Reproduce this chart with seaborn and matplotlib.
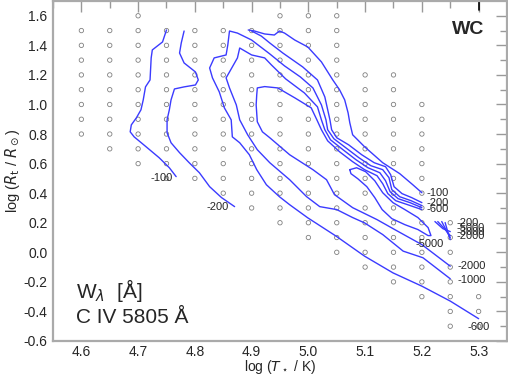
import numpy as np
import pandas as pd
import seaborn as sns
import matplotlib.pyplot as plt

# model grid: columns in log T*, each with its top / bottom log Rt
grid_logT = [4.60, 4.65, 4.70, 4.75, 4.80, 4.85, 4.90, 4.95, 5.00, 5.05, 5.10, 5.15, 5.20, 5.25, 5.30]
grid_top = [1.5, 1.5, 1.6, 1.5, 1.5, 1.5, 1.5, 1.6, 1.6, 1.6, 1.2, 1.2, 1.0, 0.2, -0.3]
grid_bottom = [0.8, 0.7, 0.6, 0.5, 0.5, 0.4, 0.3, 0.2, 0.1, 0.0, -0.1, -0.2, -0.3, -0.5, -0.5]

# contour lines of W_lambda (traced by hand), (log T*, log Rt)
c100_left = [(4.750, 1.504), (4.743, 1.423), (4.725, 1.369), (4.723, 1.315), (4.721, 1.166),
             (4.713, 1.119), (4.709, 1.031), (4.705, 0.964), (4.697, 0.910), (4.688, 0.862),
             (4.686, 0.815), (4.693, 0.781), (4.714, 0.714), (4.737, 0.640), (4.755, 0.572),
             (4.767, 0.512)]
c200_left = [(4.781, 1.497), (4.776, 1.416), (4.773, 1.348), (4.781, 1.281), (4.801, 1.220),
             (4.806, 1.166), (4.801, 1.132), (4.781, 1.119), (4.764, 1.105), (4.758, 1.031),
             (4.755, 0.964), (4.751, 0.896), (4.751, 0.809), (4.758, 0.741), (4.773, 0.674),
             (4.790, 0.606), (4.808, 0.538), (4.826, 0.444), (4.847, 0.370), (4.870, 0.309)]
c100_right = [(4.894, 1.504), (4.905, 1.497), (4.923, 1.477), (4.940, 1.470), (4.949, 1.497),
              (4.958, 1.483), (4.976, 1.436), (4.999, 1.389), (5.023, 1.288), (5.043, 1.166),
              (5.055, 1.099), (5.064, 1.031), (5.070, 0.943), (5.073, 0.876), (5.078, 0.795),
              (5.099, 0.714), (5.131, 0.606), (5.161, 0.532), (5.184, 0.457), (5.200, 0.403)]
c200_right = [(4.900, 1.497), (4.917, 1.463), (4.932, 1.416), (4.955, 1.348), (4.990, 1.254),
              (5.016, 1.166), (5.029, 1.051), (5.038, 0.896), (5.041, 0.829), (5.050, 0.775),
              (5.071, 0.727), (5.094, 0.660), (5.116, 0.606), (5.136, 0.579), (5.145, 0.525),
              (5.151, 0.444), (5.165, 0.397), (5.182, 0.370), (5.200, 0.336)]
c600 = [(5.300, -0.449), (5.250, -0.330), (5.200, -0.229), (5.149, -0.139), (5.099, -0.026),
        (5.049, 0.109), (4.999, 0.233), (4.967, 0.322), (4.949, 0.376), (4.926, 0.457),
        (4.909, 0.559), (4.896, 0.660), (4.879, 0.741), (4.866, 0.781), (4.864, 0.896),
        (4.852, 0.977), (4.843, 1.085), (4.831, 1.180), (4.826, 1.247), (4.834, 1.315),
        (4.855, 1.335), (4.858, 1.402), (4.861, 1.497), (4.875, 1.483), (4.900, 1.436),
        (4.932, 1.342), (4.958, 1.261), (4.986, 1.186), (5.008, 1.112), (5.023, 0.997),
        (5.031, 0.896), (5.034, 0.829), (5.045, 0.768), (5.066, 0.707), (5.089, 0.640),
        (5.110, 0.586), (5.131, 0.559), (5.142, 0.505), (5.147, 0.424), (5.161, 0.376),
        (5.181, 0.349), (5.200, 0.316)]
c1000 = [(5.250, -0.179), (5.202, -0.037), (5.167, 0.008), (5.131, 0.120), (5.099, 0.199),
         (5.078, 0.235), (5.050, 0.289), (5.020, 0.309), (4.997, 0.376), (4.967, 0.491),
         (4.932, 0.606), (4.910, 0.694), (4.893, 0.795), (4.879, 0.896), (4.873, 0.997),
         (4.861, 1.112), (4.855, 1.180), (4.861, 1.220), (4.875, 1.315), (4.879, 1.382),
         (4.900, 1.335), (4.923, 1.315), (4.935, 1.267), (4.960, 1.173), (4.993, 1.078),
         (5.016, 0.984), (5.023, 0.896), (5.029, 0.829), (5.039, 0.761), (5.061, 0.694),
         (5.084, 0.626), (5.105, 0.572), (5.126, 0.538), (5.136, 0.484), (5.144, 0.410),
         (5.158, 0.363), (5.179, 0.336), (5.200, 0.302)]
c2000 = [(5.250, -0.094), (5.200, 0.052), (5.152, 0.154), (5.121, 0.221), (5.078, 0.302),
         (5.046, 0.390), (5.032, 0.491), (5.008, 0.559), (4.967, 0.660), (4.932, 0.775),
         (4.919, 0.815), (4.910, 0.883), (4.908, 0.997), (4.909, 1.065), (4.910, 1.112),
         (4.923, 1.121), (4.946, 1.112), (4.976, 1.045), (5.005, 0.977), (5.015, 0.896),
         (5.023, 0.829), (5.034, 0.754), (5.055, 0.680), (5.078, 0.613), (5.099, 0.559),
         (5.121, 0.518), (5.131, 0.464), (5.140, 0.397), (5.154, 0.349), (5.175, 0.322),
         (5.200, 0.289)]
c5000 = [(5.073, 0.559), (5.085, 0.572), (5.101, 0.545), (5.117, 0.484), (5.131, 0.403),
         (5.149, 0.336), (5.170, 0.289), (5.193, 0.235), (5.211, 0.167), (5.216, 0.113),
         (5.211, 0.113), (5.193, 0.154), (5.170, 0.187), (5.147, 0.228), (5.130, 0.289),
         (5.117, 0.370), (5.103, 0.444), (5.087, 0.498), (5.075, 0.532), (5.073, 0.559)]
edge_200 = [(5.223, 0.208), (5.237, 0.160), (5.250, 0.140)]
edge_5000 = [(5.228, 0.208), (5.241, 0.154), (5.250, 0.113)]
edge_3000 = [(5.235, 0.208), (5.244, 0.140), (5.250, 0.100)]
edge_2000 = [(5.241, 0.201), (5.246, 0.133), (5.250, 0.086)]

contours = [c100_left, c200_left, c100_right, c200_right, c600, c1000, c2000, c5000,
            edge_200, edge_5000, edge_3000, edge_2000]

# contour labels: text, log T*, log Rt, alignment
labels = [("-100", 4.741, 0.505, "center"), ("-200", 4.840, 0.309, "center"),
          ("-100", 5.208, 0.403, "left"), ("-200", 5.208, 0.332, "left"),
          ("-600", 5.208, 0.292, "left"), ("-5000", 5.213, 0.059, "center"),
          ("-200", 5.261, 0.201, "left"), ("-5000", 5.261, 0.167, "left"),
          ("-3000", 5.261, 0.140, "left"), ("-2000", 5.261, 0.113, "left"),
          ("-2000", 5.263, -0.096, "left"), ("-1000", 5.263, -0.184, "left"),
          ("-600", 5.300, -0.508, "center")]

sns.set_style("white")
plt.rcParams['font.family'] = ['Liberation Sans', 'DejaVu Sans']
plt.rcParams['mathtext.fontset'] = 'dejavusans'

grid = pd.DataFrame([(t, r) for t, top, bot in zip(grid_logT, grid_top, grid_bottom)
                     for r in np.arange(bot, top + 0.001, 0.1)], columns=["logT", "logR"])

fig = plt.figure(figsize=(5.08, 3.78), dpi=100)
ax = fig.add_axes([53 / 508, 37 / 378, 454 / 508, 340 / 378])

sns.scatterplot(data=grid, x="logT", y="logR", ax=ax, marker="o", s=10,
                facecolor="none", edgecolor="#808080", linewidth=0.6, zorder=2)

for line in contours:
    xs, ys = zip(*line)
    sns.lineplot(x=list(xs), y=list(ys), ax=ax, sort=False, estimator=None,
                 color="#3b3bff", linewidth=1.0, zorder=3)

for txt, x, y, ha in labels:
    ax.text(x, y, txt, fontsize=8, ha=ha, va="center", zorder=4)

ax.set_xlim(4.55, 5.35)
ax.set_ylim(-0.6, 1.7)
ax.set_xticks(np.arange(4.6, 5.31, 0.1))
ax.set_xticks(np.arange(4.55, 5.35, 0.05), minor=True)
ax.set_yticks(np.arange(-0.6, 1.61, 0.2))
ax.set_yticks(np.arange(-0.6, 1.7, 0.1), minor=True)
ax.xaxis.set_major_formatter(plt.FormatStrFormatter('%.1f'))
ax.yaxis.set_major_formatter(plt.FormatStrFormatter('%.1f'))
ax.tick_params(which="both", direction="in", top=True, right=True, color="#999999",
               labelsize=10, width=1)
ax.tick_params(which="major", length=8, pad=4)
ax.tick_params(axis="x", which="major", pad=3)
ax.tick_params(which="minor", length=5)
for sp in ax.spines.values():
    sp.set_color("#aaaaaa")
    sp.set_linewidth(1.6)

ax.set_xlabel(r"log ($T_\star$ / K)", fontsize=10, va="bottom")
ax.xaxis.set_label_coords(0.5, -0.104)
ax.set_ylabel(r"log ($R_{\rm t}$ / $R_\odot$)", fontsize=10.5, labelpad=1)

ax.text(0.05, 0.126, r"W$_\lambda$  [Å]", transform=ax.transAxes, fontsize=15, va="baseline")
ax.text(0.05, 0.053, "C IV 5805 Å", transform=ax.transAxes, fontsize=15, va="baseline")
ax.text(5.281, 1.504, "WC", fontsize=14, fontweight="bold", ha="center", va="center")
ax.plot([5.3, 5.3], [1.64, 1.7], color="black", linewidth=1.2, clip_on=False)

fig.savefig("out.png", dpi=100)
